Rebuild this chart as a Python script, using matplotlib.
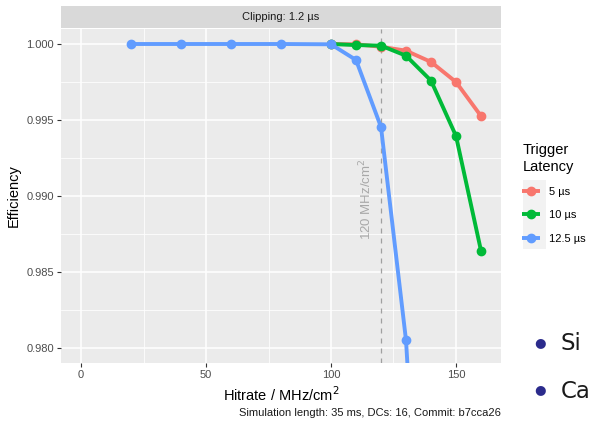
import matplotlib
matplotlib.use("Agg")
import matplotlib.pyplot as plt
from matplotlib.patches import Rectangle
from matplotlib.ticker import MultipleLocator

plt.rcParams['font.family'] = ['Liberation Sans', 'DejaVu Sans']

# ---- data ----
hitrate_5 = [100, 110, 120, 130, 140, 150, 160]
eff_5 = [1.0000, 0.99998, 0.99982, 0.99956, 0.99882, 0.99750, 0.99526]
hitrate_10 = [100, 110, 120, 130, 140, 150, 160]
eff_10 = [1.0000, 0.99993, 0.99989, 0.99923, 0.99759, 0.99395, 0.98640]
hitrate_125 = [20, 40, 60, 80, 100, 110, 120, 130, 140]
eff_125 = [1.0000, 1.0000, 1.0000, 1.0000, 0.99998, 0.99895, 0.99454, 0.98051, 0.9530]
series_labels = ["5 µs", "10 µs", "12.5 µs"]
colors = ["#F8766D", "#00BA38", "#619CFF"]
vline_x = 120
x_ticks = [0, 50, 100, 150]
y_ticks = [0.980, 0.985, 0.990, 0.995, 1.000]
facet_label = "Clipping: 1.2 µs"
caption = "Simulation length: 35 ms, DCs: 16, Commit: b7cca26"
bullet_texts = ["Si", "Ca"]

W, H = 593, 422
fig = plt.figure(figsize=(W / 100, H / 100), dpi=100)

def fx(px):
    return px / W

def fy(py):
    return 1 - py / H

# panel
pl, pr, pt, pb = 61, 501, 29, 363
ax = fig.add_axes([fx(pl), fy(pb), fx(pr) - fx(pl), (pb - pt) / H])
ax.set_facecolor("#EBEBEB")
for s in ax.spines.values():
    s.set_visible(False)
ax.set_xlim(-8, 168)
ax.set_ylim(0.979013, 1.000987)
ax.set_xticks(x_ticks)
ax.set_yticks(y_ticks)
ax.set_yticklabels([f"{v:.3f}" for v in y_ticks])
ax.xaxis.set_minor_locator(MultipleLocator(25))
ax.yaxis.set_minor_locator(MultipleLocator(0.0025))
ax.grid(which="major", color="white", linewidth=1.1)
ax.grid(which="minor", color="white", linewidth=0.55)
ax.set_axisbelow(True)
ax.tick_params(which="major", length=2.7, width=0.8, color="#333333",
               labelsize=8, labelcolor="#4D4D4D", pad=2.5)
ax.tick_params(which="minor", length=0)

# vline + annotation
ax.axvline(vline_x, color="#A0A0A0", linestyle=(0, (4, 4)), linewidth=0.9, zorder=2)
ax.text(vline_x - 2.8, 0.9898, "120 MHz/cm$^2$", rotation=90, ha="right", va="center",
        color="#A8A8A8", fontsize=9.5)

handles = []
for xs, ys, c, lab in zip([hitrate_5, hitrate_10, hitrate_125],
                          [eff_5, eff_10, eff_125], colors, series_labels):
    h, = ax.plot(xs, ys, color=c, linewidth=2.8, marker="o", markersize=6,
                 label=lab, zorder=3, solid_capstyle="butt")
    handles.append(h)

ax.set_xlabel("Hitrate / MHz/cm$^2$", fontsize=10.5, labelpad=4)
ax.set_ylabel("Efficiency", fontsize=10.5, labelpad=4)

# facet strip
sax = fig.add_axes([fx(pl), fy(pt - 1), fx(pr) - fx(pl), (pt - 1 - 6) / H])
sax.set_facecolor("#D9D9D9")
sax.set_xticks([]); sax.set_yticks([])
for s in sax.spines.values():
    s.set_visible(False)
sax.text(0.5, 0.5, facet_label, ha="center", va="center", fontsize=8,
         color="#1A1A1A", transform=sax.transAxes)

# legend key background
fig.patches.append(Rectangle((fx(523), fy(249)), fx(546) - fx(523), (249 - 180) / H,
                             transform=fig.transFigure, facecolor="#F2F2F2",
                             edgecolor="none", zorder=0))
leg = fig.legend(handles=handles, loc="upper left", bbox_to_anchor=(fx(518), fy(139)),
                 frameon=False, title="Trigger\nLatency", fontsize=8, title_fontsize=10.5,
                 handlelength=1.6, handletextpad=0.8, labelspacing=1.2,
                 borderaxespad=0, alignment="left")
for lh in leg.legend_handles:
    lh.set_markersize(6)

# caption
fig.text(fx(501), fy(413), caption, ha="right", va="center", fontsize=8, color="#1A1A1A")

# overlapping slide bullets
for yb, txt in zip([343, 390], bullet_texts):
    fig.text(fx(540), fy(yb), "●", ha="center", va="center", fontsize=9.5,
             color="#2B2B8C", family="DejaVu Sans")
    fig.text(fx(561), fy(yb + 1), txt, ha="left", va="center", fontsize=16.5,
             color="#1A1A1A", family="DejaVu Sans")

fig.savefig("out.png", dpi=100)
